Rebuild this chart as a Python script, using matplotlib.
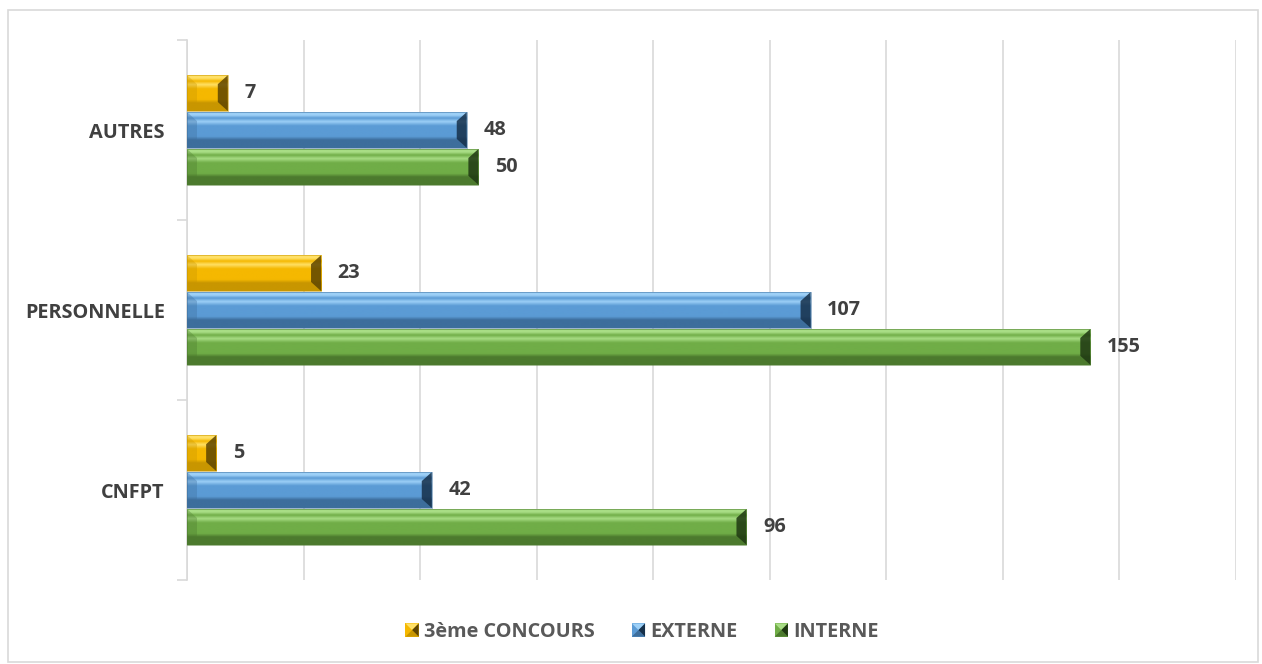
import numpy as np
import matplotlib.pyplot as plt
from matplotlib.patches import Rectangle, Polygon
from matplotlib.colors import LinearSegmentedColormap
from matplotlib.legend_handler import HandlerBase

plt.rcParams['font.family'] = ['Open Sans', 'DejaVu Sans']

categories = ['CNFPT', 'PERSONNELLE', 'AUTRES']
series = ['3ème CONCOURS', 'EXTERNE', 'INTERNE']
concours3 = [5, 23, 7]
externe = [42, 107, 48]
interne = [96, 155, 50]

# base, light, dark, darkest
palette = {
    '3ème CONCOURS': ('#F5B800', '#FFE066', '#C89600', '#5E4500'),
    'EXTERNE': ('#5B9BD5', '#9DD0F7', '#3D6E9C', '#16304A'),
    'INTERNE': ('#70AD47', '#A8DD85', '#4C7A2E', '#1F3812'),
}

fs = 14.3

fig = plt.figure(figsize=(12.62, 6.64), dpi=100)
ax = fig.add_axes([187 / 1262, 1 - 580 / 664, (1236 - 187) / 1262, 540 / 664])

xmax = 180
ax.set_xlim(0, xmax)
ax.set_ylim(-0.5, 2.5)

bbox = ax.get_window_extent()
sx = xmax / bbox.width
sy = 3.0 / bbox.height


def bevel_bar(x0, yc, w, h, cols):
    base, light, dark, darkest = cols
    y0, y1 = yc - h / 2, yc + h / 2
    x1 = x0 + w
    bx = min(10 * sx, w / 2)
    by = 9 * sy
    cmap = LinearSegmentedColormap.from_list(
        'b', [(0, dark), (0.22, dark), (0.32, base), (0.62, base), (0.74, light),
              (0.84, base), (0.92, light), (1, light)])
    grad = np.linspace(1, 0, 64).reshape(-1, 1)
    ax.imshow(grad, cmap=cmap, extent=(x0, x1, y0, y1), aspect='auto',
              interpolation='bilinear', zorder=3)
    ax.add_patch(Polygon([(x1, y0), (x1, y1), (x1 - bx, y1 - by), (x1 - bx, y0 + by)],
                         facecolor=darkest, alpha=0.85, edgecolor='none', zorder=4))
    ax.add_patch(Polygon([(x0, y0), (x0, y1), (x0 + bx, y1 - by), (x0 + bx, y0 + by)],
                         facecolor=dark, alpha=0.35, edgecolor='none', zorder=4))
    ax.add_patch(Rectangle((x0, y0), w, h, facecolor='none', edgecolor=dark,
                           linewidth=0.6, alpha=0.6, zorder=5))


h = 0.205
offsets = {'3ème CONCOURS': h, 'EXTERNE': 0.0, 'INTERNE': -h}
data = {'3ème CONCOURS': concours3, 'EXTERNE': externe, 'INTERNE': interne}

for name in series:
    for i, v in enumerate(data[name]):
        yc = i + offsets[name]
        bevel_bar(0, yc, v, h * 0.97, palette[name])
        ax.annotate(str(v), (v, yc), xytext=(12, 0), textcoords='offset points',
                    ha='left', va='center', fontsize=fs, fontweight='bold',
                    color='#404040')

ax.set_xlim(0, xmax)
ax.set_ylim(-0.5, 2.5)
ax.set_xticks(range(0, xmax + 1, 20))
ax.tick_params(axis='x', length=0, labelbottom=False)
ax.grid(axis='x', color='#d9d9d9', linewidth=1.2, zorder=0)
ax.set_axisbelow(True)

ax.set_yticks(range(len(categories)))
ax.set_yticklabels(categories, fontsize=fs, fontweight='bold', color='#404040')
ax.set_yticks([-0.5, 0.5, 1.5, 2.5], minor=True)
ax.tick_params(axis='y', which='major', length=0, pad=16)
ax.tick_params(axis='y', which='minor', length=7, color='#d9d9d9', width=1.2)
for s in ['top', 'right', 'bottom']:
    ax.spines[s].set_visible(False)
ax.spines['left'].set_color('#d9d9d9')
ax.spines['left'].set_linewidth(1.2)


class BevelHandler(HandlerBase):
    def create_artists(self, legend, orig_handle, xd, yd, width, height, fontsize, trans):
        base, light, dark, darkest = orig_handle.cols
        s = height * 0.95
        x0 = xd + width - s
        y0 = yd + (height - s) / 2
        c = (x0 + s / 2, y0 + s / 2)
        arts = [Rectangle((x0, y0), s, s, facecolor=base, edgecolor='none', transform=trans),
                Polygon([(x0, y0 + s), (x0 + s, y0 + s), c], facecolor=light,
                        edgecolor='none', transform=trans),
                Polygon([(x0, y0), (x0 + s, y0), c], facecolor=dark,
                        edgecolor='none', transform=trans),
                Polygon([(x0 + s, y0), (x0 + s, y0 + s), c], facecolor=darkest,
                        edgecolor='none', transform=trans)]
        return arts


class Swatch:
    def __init__(self, cols):
        self.cols = cols


handles = [Swatch(palette[n]) for n in series]
leg = fig.legend(handles, series, handler_map={Swatch: BevelHandler()},
                 loc='center', bbox_to_anchor=(0.508, 1 - 632 / 664), ncol=3,
                 frameon=False, handlelength=0.75, handletextpad=0.25, columnspacing=1.8,
                 prop={'size': fs, 'weight': 'bold'})
for t in leg.get_texts():
    t.set_color('#595959')

fig.patches.append(Rectangle((8 / 1262, 2 / 664), 1250 / 1262, 652 / 664,
                             transform=fig.transFigure, fill=False,
                             edgecolor='#d9d9d9', linewidth=1.2))

fig.savefig('out.png', dpi=100)
